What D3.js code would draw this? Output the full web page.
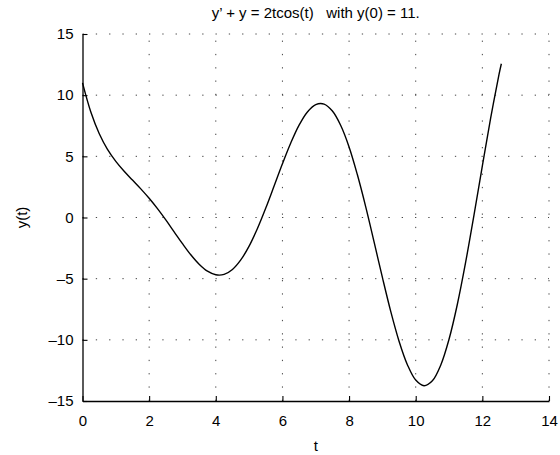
<!DOCTYPE html>
<html>
<head>
<meta charset="utf-8">
<script src="https://cdn.jsdelivr.net/npm/d3@7"></script>
<style>
  body { margin: 0; background: #fff; }
  text { font-family: "Liberation Sans", Arial, sans-serif; font-size: 15px; fill: #000; }
</style>
</head>
<body>
<div id="chart"></div>
<script>
(function(){
  // samples
  const tVals = [0, 0.25, 0.5, 0.75, 1, 1.25, 1.5, 1.75, 2, 2.25, 2.5, 2.75, 3, 3.25,
    3.5, 3.75, 4, 4.25, 4.5, 4.75, 5, 5.25, 5.5, 5.75, 6, 6.25, 6.5, 6.75, 7, 7.25,
    7.5, 7.75, 8, 8.25, 8.5, 8.75, 9, 9.25, 9.5, 9.75, 10, 10.25, 10.5, 10.75, 11,
    11.25, 11.5, 11.75, 12, 12.25, 12.5, 12.57];
  const yVals = [11, 8.62, 6.87, 5.57, 4.59, 3.78, 3.06, 2.34, 1.57, 0.72, -0.20,
    -1.17, -2.14, -3.05, -3.82, -4.39, -4.68, -4.65, -4.25, -3.47, -2.34, -0.90,
    0.77, 2.57, 4.39, 6.09, 7.55, 8.63, 9.23, 9.27, 8.70, 7.52, 5.77, 3.49, 0.87,
    -1.99, -4.90, -7.67, -10.11, -12.03, -13.29, -13.75, -13.35, -12.07, -9.95,
    -7.09, -3.63, 0.22, 4.22, 8.14, 11.70, 12.57];
  const xTicks = [0, 2, 4, 6, 8, 10, 12, 14];
  const yTicks = [-15, -10, -5, 0, 5, 10, 15];
  const yTickLabels = ["\u201315", "\u201310", "\u20135", "0", "5", "10", "15"];

  const width = 560, height = 455;
  const left = 82.5, right = 549, top = 34, bottom = 401;

  const svg = d3.select("#chart").append("svg")
    .attr("width", width)
    .attr("height", height);

  const x = d3.scaleLinear().domain([0, 14]).range([left, right]);
  const y = d3.scaleLinear().domain([-15, 15]).range([bottom, top]);

  // dotted grid
  const grid = svg.append("g")
    .attr("stroke", "#444")
    .attr("stroke-width", 1)
    .attr("stroke-dasharray", "1.3,12")
    .attr("fill", "none");
  grid.selectAll(".vg").data(xTicks.slice(1)).enter().append("line")
    .attr("x1", d => x(d)).attr("x2", d => x(d))
    .attr("y1", bottom).attr("y2", top);
  grid.selectAll(".hg").data(yTicks.slice(1)).enter().append("line")
    .attr("x1", left).attr("x2", right)
    .attr("y1", d => y(d)).attr("y2", d => y(d));

  // axes (left and bottom only, ticks inward)
  const xAxis = svg.append("g")
    .attr("transform", `translate(0,${bottom})`)
    .call(d3.axisBottom(x).tickValues(xTicks).tickSizeInner(-5).tickSizeOuter(0).tickPadding(14));
  const yAxis = svg.append("g")
    .attr("transform", `translate(${left},0)`)
    .call(d3.axisLeft(y).tickValues(yTicks).tickFormat((d, i) => yTickLabels[i])
      .tickSizeInner(-5).tickSizeOuter(0).tickPadding(14));

  [xAxis, yAxis].forEach(g => {
    g.select(".domain").attr("stroke", "#000").attr("stroke-width", 1.3);
    g.selectAll(".tick line").attr("stroke", "#000").attr("stroke-width", 1.1);
    g.selectAll("text").attr("font-size", 15).attr("font-family", "Liberation Sans, Arial, sans-serif").attr("fill", "#000");
  });
  yAxis.selectAll("text").attr("x", -9);

  // curve
  const line = d3.line()
    .x((d, i) => x(tVals[i]))
    .y(d => y(d))
    .curve(d3.curveCatmullRom.alpha(0.5));
  svg.append("path")
    .datum(yVals)
    .attr("d", line)
    .attr("fill", "none")
    .attr("stroke", "#000")
    .attr("stroke-width", 1.4);

  // labels
  svg.append("text")
    .attr("x", (left + right) / 2)
    .attr("y", 18)
    .attr("text-anchor", "middle")
    .style("white-space", "pre")
    .text("y\u2019 + y = 2tcos(t)   with y(0) = 11.");
  svg.append("text")
    .attr("x", (left + right) / 2)
    .attr("y", 451)
    .attr("text-anchor", "middle")
    .text("t");
  svg.append("text")
    .attr("transform", `translate(27,${(top + bottom) / 2}) rotate(-90)`)
    .attr("text-anchor", "middle")
    .text("y(t)");
})();
</script>
</body>
</html>
